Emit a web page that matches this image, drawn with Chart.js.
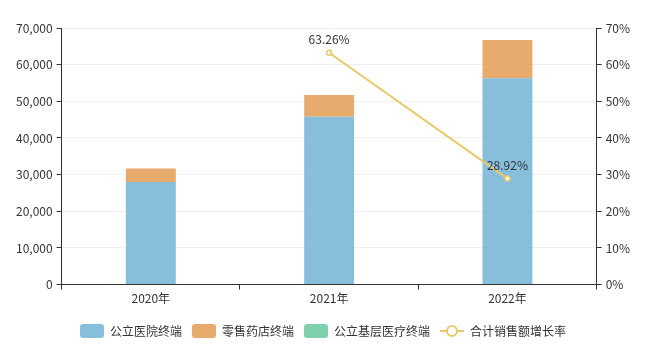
<!DOCTYPE html>
<html>
<head>
<meta charset="utf-8">
<script src="https://cdn.jsdelivr.net/npm/chart.js@4"></script>
<style>
  html, body { margin: 0; padding: 0; background: #fff; }
  #wrap { width: 645px; height: 363px; }
</style>
</head>
<body>
<div id="wrap"><canvas id="chart" width="645" height="363"></canvas></div>
<script>
const years = ['2020年', '2021年', '2022年'];
const hospital = [28000, 45800, 56300];
const retail = [3700, 5900, 10450];
const primary = [0, 0, 0];
const growth = [null, 63.26, 28.92];

const blue = '#87bedc';
const orange = '#e8ab6e';
const green = '#7fd1ae';
const yellow = '#e8c96a';
const font = "'Noto Sans CJK SC', 'Noto Sans', sans-serif";

Chart.defaults.font.family = font;
Chart.defaults.font.size = 12;
Chart.defaults.color = '#333';

// legend swatches
function box(color) {
  const c = document.createElement('canvas');
  c.width = 24; c.height = 14;
  const g = c.getContext('2d');
  g.fillStyle = color;
  g.beginPath();
  g.roundRect(0, 0, 24, 14, 3);
  g.fill();
  return c;
}
function lineMark(color) {
  const c = document.createElement('canvas');
  c.width = 24; c.height = 14;
  const g = c.getContext('2d');
  g.strokeStyle = color;
  g.lineWidth = 2;
  g.beginPath(); g.moveTo(0, 7); g.lineTo(24, 7); g.stroke();
  g.fillStyle = '#fff';
  g.beginPath(); g.arc(12, 7, 5, 0, Math.PI * 2); g.fill(); g.stroke();
  return c;
}

const pointLabels = {
  id: 'pointLabels',
  afterDatasetsDraw(chart) {
    const ctx = chart.ctx;
    const meta = chart.getDatasetMeta(3);
    ctx.save();
    ctx.font = '12px ' + font;
    ctx.fillStyle = '#333';
    ctx.textAlign = 'center';
    ctx.textBaseline = 'bottom';
    meta.data.forEach((pt, i) => {
      if (growth[i] == null) return;
      ctx.fillText(growth[i].toFixed(2) + '%', pt.x, pt.y - 7);
    });
    ctx.restore();
  }
};

new Chart(document.getElementById('chart'), {
  type: 'bar',
  data: {
    labels: years,
    datasets: [
      { label: '公立医院终端', data: hospital, backgroundColor: blue, stack: 's', yAxisID: 'y', order: 2,
        categoryPercentage: 1, barPercentage: 0.28, _swatch: box(blue) },
      { label: '零售药店终端', data: retail, backgroundColor: orange, stack: 's', yAxisID: 'y', order: 2,
        categoryPercentage: 1, barPercentage: 0.28, _swatch: box(orange) },
      { label: '公立基层医疗终端', data: primary, backgroundColor: green, stack: 's', yAxisID: 'y', order: 2,
        categoryPercentage: 1, barPercentage: 0.28, _swatch: box(green) },
      { type: 'line', label: '合计销售额增长率', data: growth, yAxisID: 'y1', order: 1,
        borderColor: yellow, borderWidth: 2, backgroundColor: '#fff',
        pointRadius: 2.5, pointBorderWidth: 1.5, pointBorderColor: yellow, pointBackgroundColor: '#fff',
        tension: 0, spanGaps: false, _swatch: lineMark(yellow) }
    ]
  },
  options: {
    responsive: false,
    animation: false,
    layout: { padding: { top: 28, left: 12, right: 11, bottom: 16 } },
    plugins: {
      tooltip: { enabled: false },
      legend: {
        position: 'bottom',
        labels: {
          usePointStyle: true,
          pointStyleWidth: 24,
          padding: 10,
          color: '#333',
          font: { size: 12 },
          generateLabels(chart) {
            return chart.data.datasets.map((d, i) => ({
              text: d.label,
              pointStyle: d._swatch,
              datasetIndex: i,
              fontColor: '#333',
              lineWidth: 0,
              strokeStyle: 'transparent',
              fillStyle: 'transparent'
            }));
          }
        }
      }
    },
    scales: {
      x: {
        stacked: true,
        grid: { drawOnChartArea: false, offset: true, tickLength: 5, tickColor: '#333' },
        border: { color: '#333' },
        ticks: { padding: 2, color: '#333' },
        afterFit: s => { s.height += 7; }
      },
      y: {
        stacked: true,
        min: 0, max: 70000,
        ticks: { stepSize: 10000, padding: 4, color: '#333',
          callback: v => v.toLocaleString('en-US') },
        grid: { color: '#eeeeee', tickLength: 5, tickColor: '#333' },
        border: { color: '#333' }
      },
      y1: {
        position: 'right',
        min: 0, max: 70,
        ticks: { stepSize: 10, padding: 4, color: '#333', callback: v => v + '%' },
        grid: { drawOnChartArea: false, tickLength: 5, tickColor: '#333' },
        border: { color: '#333' }
      }
    }
  },
  plugins: [pointLabels]
});
</script>
</body>
</html>
